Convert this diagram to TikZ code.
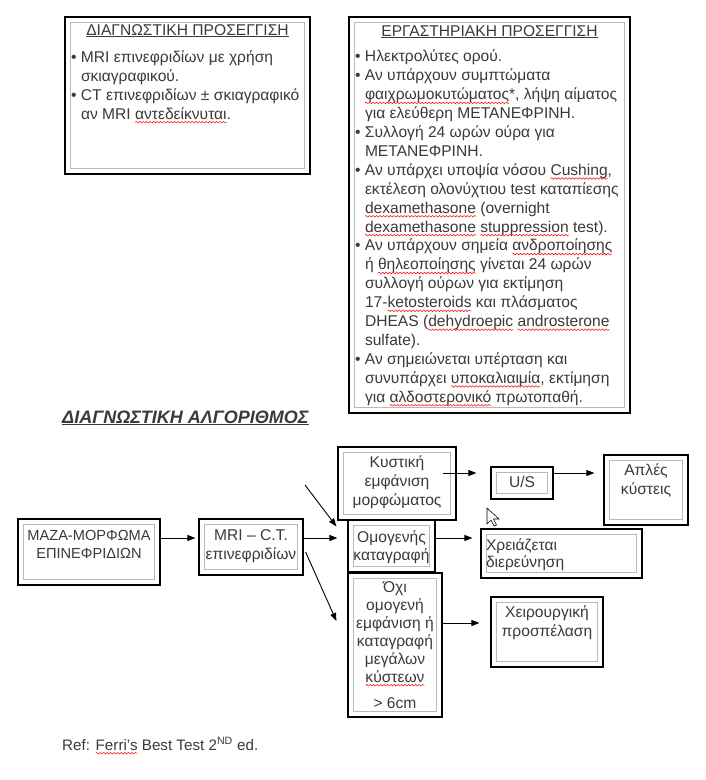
\documentclass[tikz,border=0pt]{standalone}
\usepackage{fontspec}
\setmainfont{Liberation Sans}
\usetikzlibrary{arrows.meta,decorations.pathmorphing}
\definecolor{txtcol}{HTML}{3A3A3A}
\colorlet{framecol}{black!27}
\tikzstyle{dbox}=[draw, line width=1.2pt, inner sep=0pt, text=txtcol,
  path picture={\draw[framecol, line width=1pt]
    ([shift={(5.5pt,-5.5pt)}]path picture bounding box.north west) rectangle
    ([shift={(-5.5pt,5.5pt)}]path picture bounding box.south east);}]
\tikzstyle{arr}=[-{Triangle[length=8pt,width=6pt]}, line width=0.9pt]
% box text: width, height, first baseline, text
\newcommand{\bx}[4]{\parbox[t][#2][t]{#1}{\fontsize{15.6}{19}\selectfont
  \centering\rule{0pt}{#3}#4}}
\newcommand{\bul}[1]{\hspace*{6pt}\mbox{\makebox[10pt][l]{\textbullet}#1}}
\newcommand{\ind}[1]{\hspace*{16pt}\mbox{#1}}
% spell-check wave
\newsavebox{\splbox}
\newcommand{\spl}[1]{\sbox{\splbox}{#1}\usebox{\splbox}%
  \tikz[overlay,x=1pt,y=1pt]\draw[red,line width=0.5pt,decorate,
    decoration={snake,amplitude=0.8pt,segment length=3.5pt}]
    (-\wd\splbox,-3.2pt) -- (0,-3.2pt);}

\begin{document}
\begin{tikzpicture}[x=1pt,y=-1pt]
  \path[use as bounding box, fill=white] (0,0) rectangle (705,780);
  % top boxes
  \node[dbox] (diag) at (187.5,95.5) {\bx{245pt}{157pt}{18pt}{%
    \underline{ΔΙΑΓΝΩΣΤΙΚΗ ΠΡΟΣΕΓΓΙΣΗ}\par\vspace{8pt}\raggedright
    \bul{MRI επινεφριδίων με χρήση}\\
    \ind{σκιαγραφικού.}\\
    \bul{CT επινεφριδίων ± σκιαγραφικό}\\
    \ind{αν MRI \spl{αντεδείκνυται}.}}};
  \node[dbox] (lab) at (489.5,215) {\bx{281pt}{396pt}{19pt}{%
    \underline{ΕΡΓΑΣΤΗΡΙΑΚΗ ΠΡΟΣΕΓΓΙΣΗ}\par\vspace{7pt}
    \fontsize{15.6}{18.9}\selectfont\raggedright
    \bul{Ηλεκτρολύτες ορού.}\\
    \bul{Αν υπάρχουν συμπτώματα}\\
    \ind{\spl{φαιχρωμοκυτώματος}*, λήψη αίματος}\\
    \ind{για ελεύθερη ΜΕΤΑΝΕΦΡΙΝΗ.}\\
    \bul{Συλλογή 24 ωρών ούρα για}\\
    \ind{ΜΕΤΑΝΕΦΡΙΝΗ.}\\
    \bul{Αν υπάρχει υποψία νόσου \spl{Cushing},}\\
    \ind{εκτέλεση ολονύχτιου test καταπίεσης}\\
    \ind{\spl{dexamethasone} (overnight}\\
    \ind{\spl{dexamethasone} \spl{stuppression} test).}\\
    \bul{Αν υπάρχουν σημεία \spl{ανδροποίησης}}\\
    \ind{ή \spl{θηλεοποίησης} γίνεται 24 ωρών}\\
    \ind{συλλογή ούρων για εκτίμηση}\\
    \ind{17-\spl{ketosteroids} και πλάσματος}\\
    \ind{DHEAS (\spl{dehydroepic} \spl{androsterone}}\\
    \ind{sulfate).}\\
    \bul{Αν σημειώνεται υπέρταση και}\\
    \ind{συνυπάρχει \spl{υποκαλιαιμία}, εκτίμηση}\\
    \ind{για \spl{αλδοστερονικό} πρωτοπαθή.}}};
  \node[anchor=base west, inner sep=0pt, text=txtcol,
    font=\fontsize{18}{21}\selectfont\bfseries\itshape] (algo) at (62,423)
    {\underline{ΔΙΑΓΝΩΣΤΙΚΗ ΑΛΓΟΡΙΘΜΟΣ}};
  % flow chart
  \node[dbox] (mass) at (89,552) {\bx{142pt}{66pt}{21pt}{%
    \fontsize{14.6}{18}\selectfont ΜΑΖΑ-ΜΟΡΦΩΜΑ\\ΕΠΙΝΕΦΡΙΔΙΩΝ}};
  \node[dbox] (mri) at (251,547) {\bx{104pt}{56pt}{21pt}{MRI – C.T.\\επινεφριδίων}};
  \node[dbox] (cyst) at (397,483.5) {\bx{118pt}{73pt}{20pt}{Κυστική\\εμφάνιση\\μορφώματος}};
  \node[dbox] (us) at (522,483) {\bx{62pt}{32pt}{20pt}{U/S}};
  \node[dbox] (simple) at (646,490) {\bx{84pt}{70pt}{20pt}{Απλές\\κύστεις}};
  \node[dbox] (homog) at (391.5,546) {\bx{87pt}{52pt}{22pt}{%
    \fontsize{15.6}{18}\selectfont Ομογενής\\καταγραφή}};
  \node[dbox] (need) at (561.5,553.5) {\bx{161pt}{49pt}{21pt}{%
    \fontsize{15.6}{17}\selectfont\raggedright
    \hspace*{5pt}Χρειάζεται\\\hspace*{5pt}διερεύνηση}};
  \node[dbox] (nonhom) at (395,645) {\bx{94pt}{144pt}{19pt}{%
    \fontsize{15.6}{18}\selectfont Όχι\\ομογενή\\εμφάνιση ή\\καταγραφή\\μεγάλων\\
    \spl{κύστεων}\\[8pt]> 6cm}};
  \node[dbox] (surg) at (547,632) {\bx{112pt}{70pt}{20pt}{Χειρουργική\\προσπέλαση}};
  % connectors
  \coordinate (from) at (305,485);
  \draw[arr] ([yshift=14pt]mass.east) -- ([shift={(-3pt,9pt)}]mri.west);
  \draw[arr] ([yshift=9pt]mri.east) -- ([shift={(-10pt,8pt)}]homog.west);
  \draw[arr] (from) -- ([shift={(-11pt,-7pt)}]homog.north west);
  \draw[arr] ([shift={(2pt,-5pt)}]mri.east) -- ([shift={(-11pt,24pt)}]nonhom.west);
  \draw[arr] ([shift={(-14pt,10.5pt)}]cyst.east) -- ([shift={(-14pt,10pt)}]us.west);
  \draw[arr] ([yshift=10pt]us.east) -- ([shift={(-9pt,17pt)}]simple.west);
  \draw[arr] ([yshift=8pt]homog.east) -- ([shift={(-8pt,15.5pt)}]need.west);
  \draw[arr] ([yshift=22pt]nonhom.east) -- ([shift={(-11pt,9pt)}]surg.west);
  % mouse pointer
  \draw[fill=white, line width=0.6pt] (487,508) -- ++(0,16) -- ++(4,-4) -- ++(3,6)
    -- ++(2.5,-1) -- ++(-3,-6) -- ++(5.5,0) -- cycle;
  \node[anchor=base west, inner sep=0pt, text=txtcol,
    font=\fontsize{15.2}{18}\selectfont] (ref) at (62,750)
    {Ref: \spl{Ferri’s} Best Test 2\textsuperscript{ND} ed.};
\end{tikzpicture}
\end{document}
